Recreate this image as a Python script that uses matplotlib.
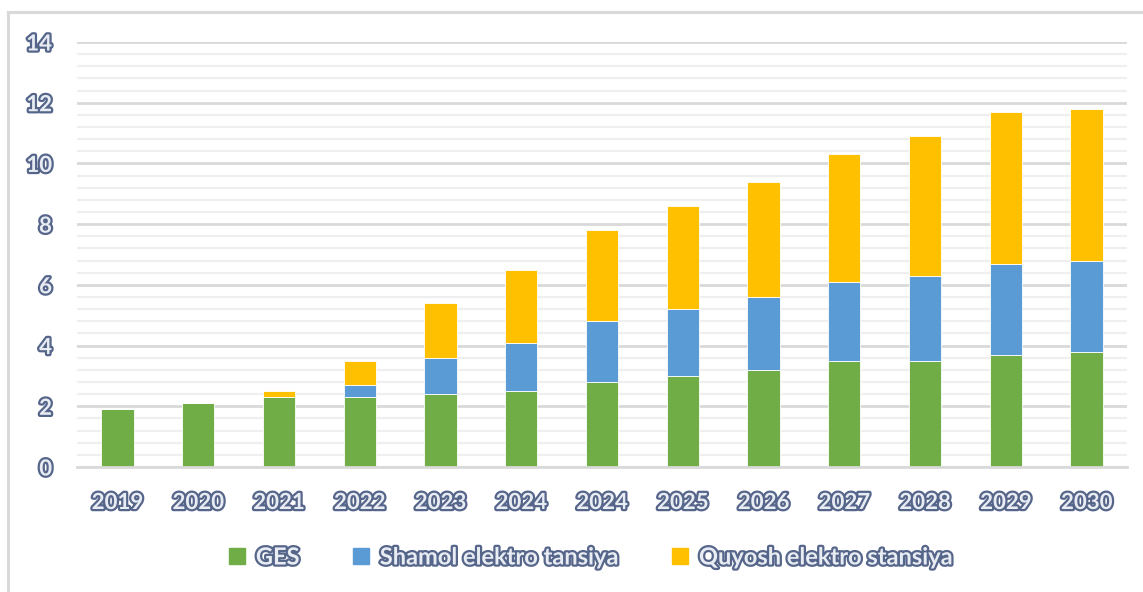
import matplotlib.pyplot as plt
import matplotlib.patheffects as pe
from matplotlib.lines import Line2D
import numpy as np

years = ["2019", "2020", "2021", "2022", "2023", "2024", "2024",
         "2025", "2026", "2027", "2028", "2029", "2030"]
# cumulative tops
ges = [1.9, 2.1, 2.3, 2.3, 2.4, 2.5, 2.8, 3.0, 3.2, 3.5, 3.5, 3.7, 3.8]
shamol_top = [1.9, 2.1, 2.3, 2.7, 3.6, 4.1, 4.8, 5.2, 5.6, 6.1, 6.3, 6.7, 6.8]
quyosh_top = [1.9, 2.1, 2.5, 3.5, 5.4, 6.5, 7.8, 8.6, 9.4, 10.3, 10.9, 11.7, 11.8]

shamol = np.array(shamol_top) - np.array(ges)
quyosh = np.array(quyosh_top) - np.array(shamol_top)

c_green = "#70ad47"
c_blue = "#5b9bd5"
c_yellow = "#ffc000"

plt.rcParams['font.family'] = ['Lato', 'DejaVu Sans']
txt_fx = [pe.withStroke(linewidth=3.2, foreground="#56658a")]
txt_col = "#e8ecf3"

fig = plt.figure(figsize=(11.43, 5.92), dpi=100)
ax = fig.add_axes([77 / 1143, 1 - 467 / 592, 1050 / 1143, 425 / 592])

x = np.arange(len(years))
w = 0.4
ax.bar(x, ges, w, color=c_green, edgecolor="white", linewidth=0.6, zorder=3)
ax.bar(x, shamol, w, bottom=ges, color=c_blue, edgecolor="white", linewidth=0.6, zorder=3)
ax.bar(x, quyosh, w, bottom=shamol_top, color=c_yellow, edgecolor="white", linewidth=0.6, zorder=3)

ax.set_xlim(-0.5, 12.5)
ax.set_ylim(0, 14)
ax.set_yticks(np.arange(0, 15, 2))
ax.set_yticks(np.arange(0, 14.01, 0.4), minor=True)
ax.grid(axis='y', which='major', color="#d9d9d9", linewidth=2.0, zorder=0)
ax.grid(axis='y', which='minor', color="#efefef", linewidth=1.6, zorder=0)
ax.tick_params(axis='y', which='both', length=0, pad=18)
ax.tick_params(axis='x', length=0, pad=18)
ax.set_xticks(x)
ax.set_xticklabels(years)
for s in ['top', 'right', 'left']:
    ax.spines[s].set_visible(False)
ax.spines['bottom'].set_color("#d9d9d9")
ax.spines['bottom'].set_linewidth(2.0)
ax.spines['bottom'].set_zorder(4)

for lab in ax.get_xticklabels() + ax.get_yticklabels():
    lab.set_fontsize(16)
    lab.set_fontweight('bold')
    lab.set_color(txt_col)
    lab.set_path_effects(txt_fx)

handles = [Line2D([], [], marker='s', linestyle='none', markersize=11, color=c)
           for c in (c_green, c_blue, c_yellow)]
leg = fig.legend(handles, ["GES", "Shamol elektro tansiya", "Quyosh elektro stansiya"],
                 loc='center', bbox_to_anchor=(589 / 1143, 1 - 557 / 592), ncol=3,
                 frameon=False, columnspacing=2.1, handletextpad=0.3, handlelength=1.0,
                 prop={'size': 17, 'weight': 'bold'})
for t in leg.get_texts():
    t.set_color(txt_col)
    t.set_path_effects(txt_fx)

# outer frame of the chart area (left and top edges visible)
fig.add_artist(Line2D([8 / 1143, 8 / 1143], [0, 1 - 12 / 592], color="#d9d9d9", linewidth=2.2))
fig.add_artist(Line2D([8 / 1143, 1], [1 - 12 / 592, 1 - 12 / 592], color="#d9d9d9", linewidth=2.2))

fig.savefig("out.png", dpi=100)
